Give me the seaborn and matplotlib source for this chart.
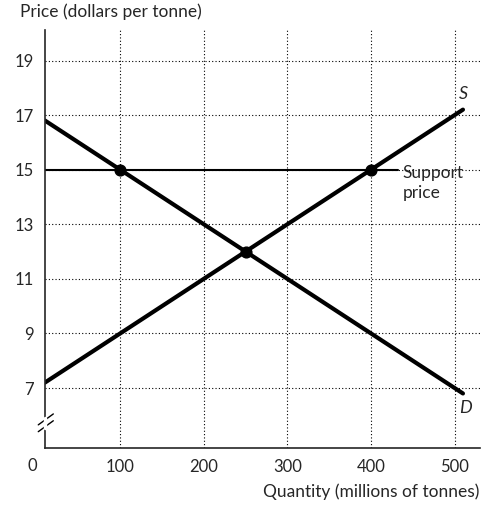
import matplotlib
matplotlib.use("Agg")
import matplotlib.pyplot as plt
import seaborn as sns

q = [10, 510]
supply = [7.2, 17.2]
demand = [16.8, 6.8]
support_q = [10, 432]
support_p = [15, 15]
points_q = [100, 250, 400]
points_p = [15, 12, 15]
xticks = [100, 200, 300, 400, 500]
yticks = [7, 9, 11, 13, 15, 17, 19]

sns.set_style("ticks")
plt.rcParams['font.family'] = ['Lato', 'DejaVu Sans']
fig = plt.figure(figsize=(4.94, 5.08), dpi=100)
ax = fig.add_axes([0.091, 0.118, 0.88, 0.822])

for yt in yticks:
    ax.axhline(yt, color="black", lw=0.8, ls=(0, (1, 2)), zorder=0)
for xt in xticks:
    ax.axvline(xt, color="black", lw=0.8, ls=(0, (1, 2)), zorder=0)

sns.lineplot(x=q, y=supply, ax=ax, color="black", lw=3)
sns.lineplot(x=q, y=demand, ax=ax, color="black", lw=3)
sns.lineplot(x=support_q, y=support_p, ax=ax, color="black", lw=1.5)
ax.scatter(points_q, points_p, s=60, color="black", zorder=5)

ax.text(438, 14.5, "Support\nprice", fontsize=12.5, va="center", ha="left", linespacing=1.3)
ax.text(505, 17.6, "S", fontsize=13, style="italic")
ax.text(505, 6.1, "D", fontsize=13, style="italic")

ax.set_xlim(10, 530)
ax.set_ylim(4.8, 20.1)
ax.set_xticks(xticks)
ax.set_yticks(yticks)
ax.tick_params(labelsize=12, length=0, pad=8)
for s in ["top", "right"]:
    ax.spines[s].set_visible(False)
ax.spines["left"].set_linewidth(1.2)
ax.spines["bottom"].set_linewidth(1.2)
ax.text(-5, 4.8 - 0.35, "0", fontsize=12, ha="center", va="top", clip_on=False)
# axis break marks
for dy in [0, 0.25]:
    ax.plot([2, 20], [5.4 + dy, 5.8 + dy], color="black", lw=1, clip_on=False)
ax.plot([10, 10], [5.55, 5.9], color="white", lw=2.5, clip_on=False, zorder=4)

ax.set_xlabel("Quantity (millions of tonnes)", fontsize=12.5, loc="right", labelpad=6)
ax.text(-20, 20.5, "Price (dollars per tonne)", fontsize=12.5, ha="left", va="bottom")

fig.savefig("out.png", dpi=100)
